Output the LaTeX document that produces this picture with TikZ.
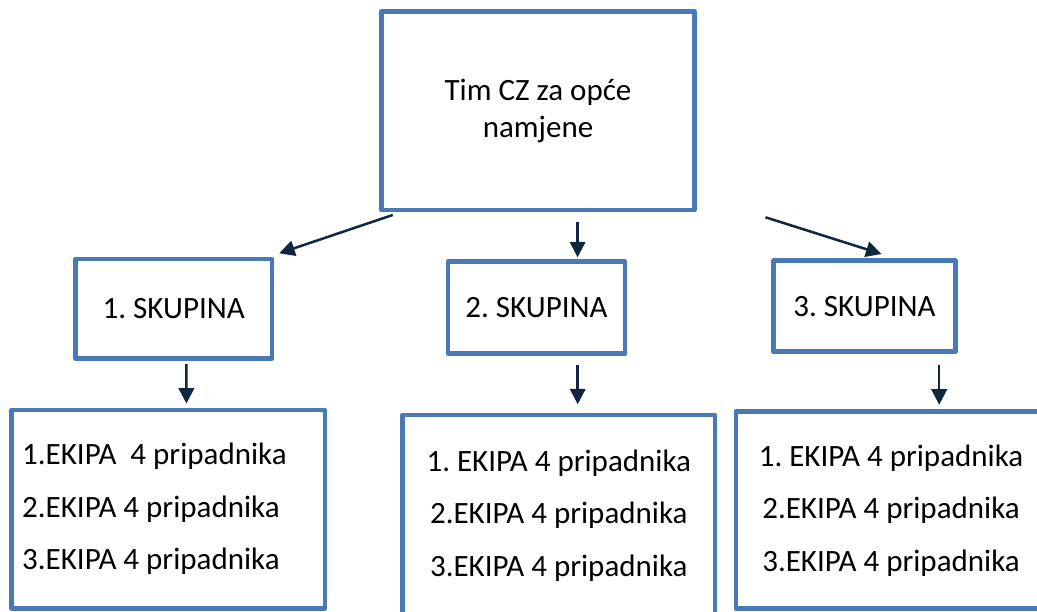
\documentclass[tikz,border=0pt]{standalone}
\usepackage{fontspec}
\setmainfont{Carlito}
\usetikzlibrary{arrows.meta,calc}
\definecolor{boxblue}{RGB}{74,122,180}
\definecolor{arrnavy}{RGB}{16,37,63}
\frenchspacing
\begin{document}
\begin{tikzpicture}[x=1pt,y=-1pt,
  box/.style={draw=boxblue, line width=4.7pt, line join=round, fill=white,
    inner sep=0pt, outer sep=0pt, text=black, font=\fontsize{31}{37}\selectfont},
  listbox/.style={box, font=\fontsize{31}{52.5}\selectfont},
  arr/.style={draw=arrnavy, line width=2.5pt, -{Triangle[length=15.5pt,width=15.5pt]}}]
\useasboundingbox (0,0) rectangle (1037,612);

\node[box, minimum width=313pt, minimum height=198.5pt, align=center] (top) at (538,110.75) {Tim CZ za opće\\namjene};

\node[box, minimum width=196.5pt, minimum height=99.5pt] (s1) at (173.75,308.75) {1. SKUPINA};
\node[box, minimum width=177pt, minimum height=92pt] (s2) at (536.5,307.7) {2. SKUPINA};
\node[box, minimum width=181.6pt, minimum height=91pt] (s3) at (864.5,306.3) {3. SKUPINA};

\node[listbox, minimum width=313.3pt, minimum height=198.3pt, inner xsep=10.5pt, text width=292.3pt, align=flush left] (e1) at (168.35,509.2)
  {1.EKIPA\ \ 4 pripadnika\\2.EKIPA 4 pripadnika\\3.EKIPA 4 pripadnika};
\node[listbox, minimum width=312.5pt, minimum height=201.2pt, align=center] (e2) at (558.75,515.6)
  {1. EKIPA 4 pripadnika\\2.EKIPA 4 pripadnika\\3.EKIPA 4 pripadnika};
\node[listbox, minimum width=310pt, minimum height=197pt, align=center] (e3) at (891,510.25)
  {1. EKIPA 4 pripadnika\\2.EKIPA 4 pripadnika\\3.EKIPA 4 pripadnika};

\draw[arr] ($(top.south west)+(11.2,5)$) -- ($(s1.north east)+(7.2,-5.7)$);
\draw[arr] ($(top.south)+(39.6,11.7)$) -- ($(s2.north)+(41.1,-4.4)$);
\draw[arr] ($(top.south east)+(71,7.3)$) -- ($(s3.north)+(17,-6.8)$);

\draw[arr] ($(s1.south)+(12.65,5.7)$) -- ($(e1.north)+(18.05,-6.5)$);
\draw[arr] ($(s2.south)+(41.2,11.3)$) -- ($(e2.north)+(18.95,-10.7)$);
\draw[arr] ($(s3.south)+(74.7,13.2)$) -- ($(e3.north)+(48.2,-7)$);
\end{tikzpicture}
\end{document}
